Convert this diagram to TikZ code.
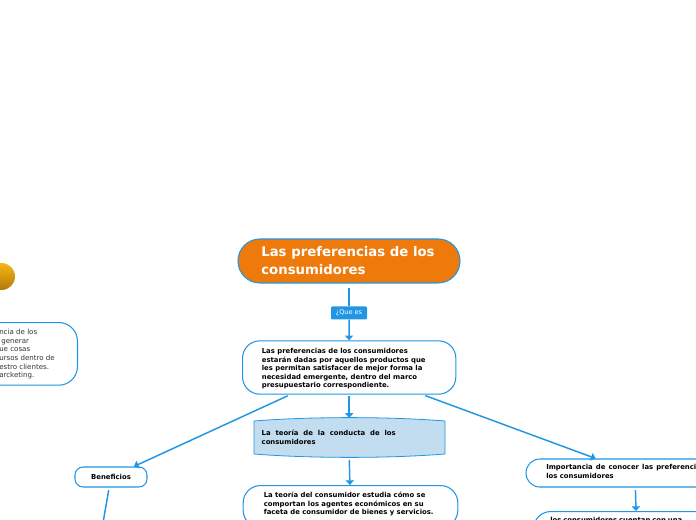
\documentclass[tikz,border=0pt]{standalone}
\usepackage{fontspec}
\setmainfont{DejaVu Sans}
\usetikzlibrary{arrows.meta,positioning}

\definecolor{mapblue}{HTML}{2196E3}
\definecolor{maporange}{HTML}{EE7A0C}
\definecolor{mapfill}{HTML}{C3DDF0}
\definecolor{goldtop}{HTML}{F9B514}
\definecolor{goldend}{HTML}{B07A0A}

\newcommand{\fullline}[2]{\makebox[#1][s]{\spaceskip=0pt\xspaceskip=0pt #2}}

\tikzset{
  topic/.style={draw=mapblue, line width=0.8pt, rounded corners=13pt, fill=white, inner sep=0pt, align=left, font=\fontsize{5.15}{6.3}\selectfont\bfseries},
  words/.style={anchor=north west, inner sep=0pt, align=left, font=\fontsize{5.15}{6.3}\selectfont\bfseries},
  link/.style={draw=mapblue, line width=1.1pt, -{Triangle[width=6pt,length=3.5pt]}, shorten <=2pt},
}

\begin{document}
\begin{tikzpicture}[x=0.75pt, y=-0.75pt]

\clip (0,0) rectangle (696,520);

\fill[draw=mapblue, line width=0.6pt, fill=mapfill]
  (254,421) .. controls (310,416.5) and (389,416.5) .. (445,421) -- (445,454)
  .. controls (389,458.5) and (310,458.5) .. (254,454) -- cycle;
\shade[top color=goldtop, bottom color=goldend] (1.5,276.5) circle (13.5);

\node[topic, fill=maporange, minimum width=166.5pt, minimum height=33pt, rounded corners=16.4pt, text=white, font=\fontsize{9.95}{13.5}\selectfont\bfseries] (titulo) at (349,261) {\makebox[131.5pt][l]{Las preferencias de los}\\consumidores};
\node[draw=none, fill=mapblue, rounded corners=0.8pt, minimum width=27pt, minimum height=9.75pt, inner sep=0pt, text=white, font=\fontsize{4.9}{5}\selectfont] (quees) [below=17pt of titulo] {¿Que es};
\node[topic, minimum width=160pt, minimum height=40pt] (pref) at (349.2,367.5) {\rule{0pt}{6pt}\makebox[131pt][l]{Las preferencias de los consumidores}\\estarán dadas por aquellos productos que\\les permitan satisfacer de mejor forma la\\necesidad emergente, dentro del marco\\presupuestario correspondiente.};
\node[inner sep=0pt, align=left, text width=131.25pt, minimum height=29pt, font=\fontsize{5.15}{6.3}\selectfont\bfseries] (conducta) at (349.2,437.5) {\fullline{100.5pt}{La teoría de la conducta de los}\\consumidores};
\node[topic, minimum width=161pt, minimum height=31.5pt, anchor=north] (teoria) at (350.5,485) {};
\node[words] (teoriatxt) at (263.5,492) {La teoría del consumidor estudia cómo se\\comportan los agentes económicos en su\\faceta de consumidor de bienes y servicios.};
\node[topic, minimum width=54pt, minimum height=15pt, rounded corners=6pt] (benef) at (111,477) {Beneficios};
\node[topic, minimum width=163.5pt, minimum height=21pt, rounded corners=10.4pt] (importa) at (635,473) {};
\node[words] (importatxt) at (546,464.5) {\fullline{112.5pt}{Importancia de conocer las preferenci}\\los consumidores};
\node[topic, minimum width=150pt, minimum height=36pt, anchor=north west] (cuentan) at (533,511) {};
\node[words] (cuentantxt) at (550,517.5) {\fullline{99pt}{los consumidores cuentan con una}};
\node[topic, minimum width=150pt, minimum height=47pt, anchor=north east, rounded corners=14pt] (izq) at (78,322) {};
\node[words, text=black!80, font=\fontsize{5.3}{6.45}\selectfont] (izqtxt) at (-1,329) {ncia de los\\\hspace*{1.5pt}generar\\ue cosas\\ursos dentro de\\estro clientes.\\arcketing.};
\coordinate (benefsig) at (100,540);

\draw[link, -, shorten <=3pt] (titulo) -- (quees);
\draw[link, shorten <=0pt] (quees) -- (pref);
\draw[link, shorten <=1pt] (pref) -- (conducta.north);
\draw[link] (pref) -- (benef);
\draw[link] (pref) -- (importa);
\draw[link] (conducta.south) -- (teoria);
\draw[link] (importa) -- (cuentan.north -| 636,0);
\draw[link, -] (benef) -- (benefsig);

\end{tikzpicture}
\end{document}
